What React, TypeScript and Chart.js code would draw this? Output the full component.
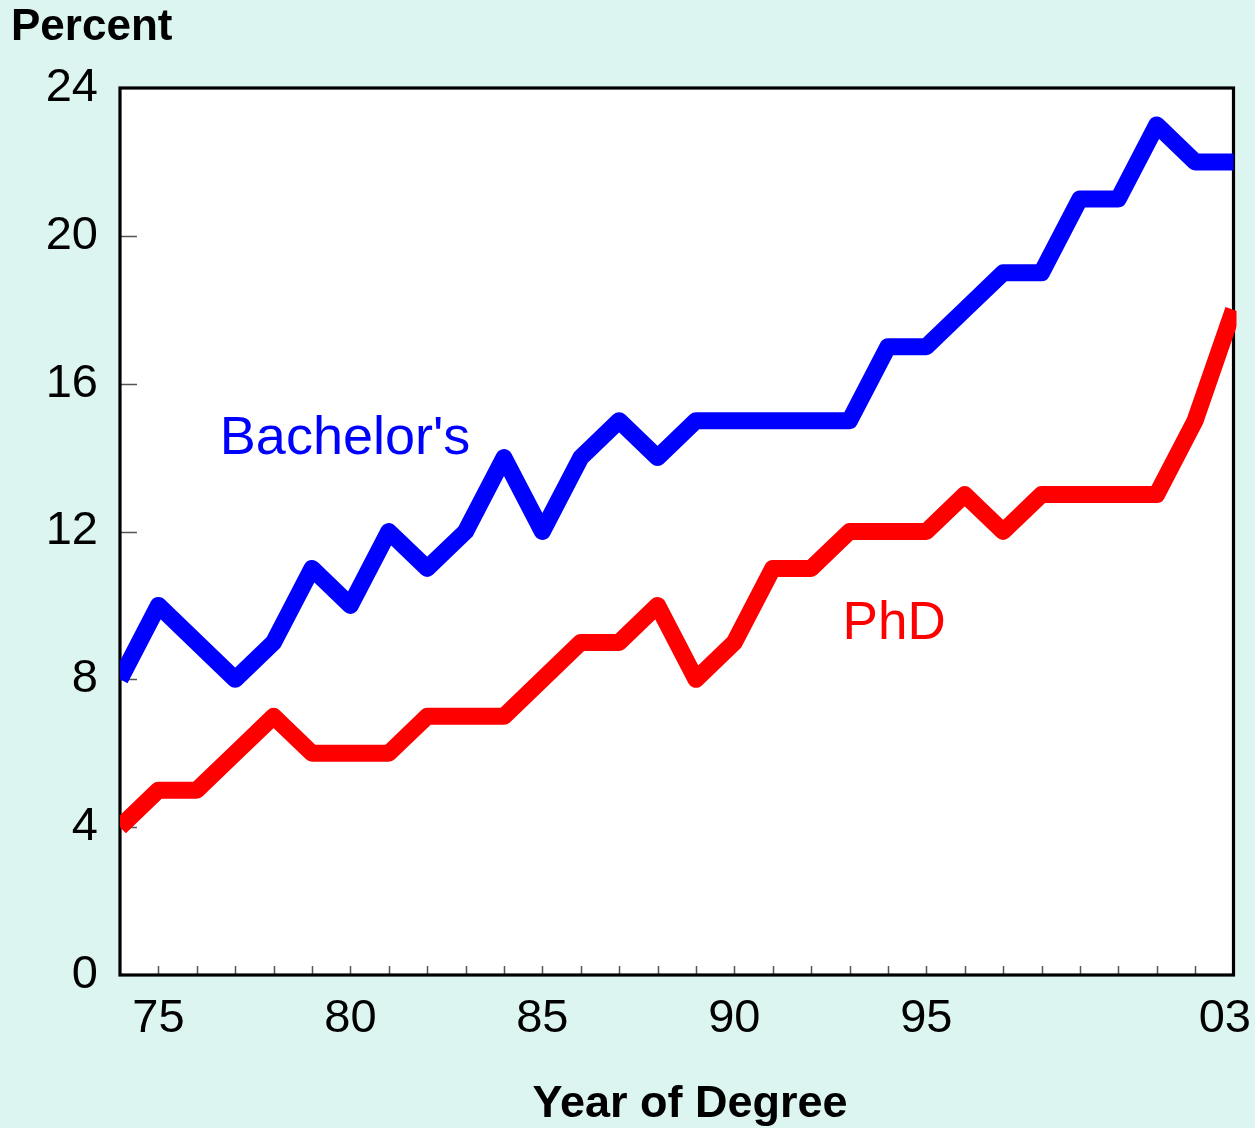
import React, { useEffect, useRef } from "react";
import { Chart, registerables } from "chart.js";

Chart.register(...registerables);

const years = [1974, 1975, 1976, 1977, 1978, 1979, 1980, 1981, 1982, 1983, 1984, 1985, 1986, 1987, 1988, 1989, 1990, 1991, 1992, 1993, 1994, 1995, 1996, 1997, 1998, 1999, 2000, 2001, 2002, 2003];
const bachelors = [8, 10, 9, 8, 9, 11, 10, 12, 11, 12, 14, 12, 14, 15, 14, 15, 15, 15, 15, 15, 17, 17, 18, 19, 19, 21, 21, 23, 22, 22];
const phd = [4, 5, 5, 6, 7, 6, 6, 6, 7, 7, 7, 8, 9, 9, 10, 8, 9, 11, 11, 12, 12, 12, 13, 12, 13, 13, 13, 13, 15, 18];
const xTickYears = [1975, 1980, 1985, 1990, 1995, 2003];
const xTickLabels = ["75", "80", "85", "90", "95", "03"];
const yTicks = [0, 4, 8, 12, 16, 20, 24];

const FONT = '"Liberation Sans", Arial, Helvetica, sans-serif';
const BG = "#dcf5f0";

const customPlugin = {
  id: "customDraw",
  beforeDraw(chart: any) {
    const { ctx, chartArea } = chart;
    ctx.save();
    ctx.fillStyle = BG;
    ctx.fillRect(0, 0, chart.width, chart.height);
    ctx.fillStyle = "#ffffff";
    ctx.fillRect(chartArea.left, chartArea.top, chartArea.right - chartArea.left, chartArea.bottom - chartArea.top);
    ctx.restore();
  },
  beforeDatasetsDraw(chart: any) {
    const { ctx, chartArea } = chart;
    const xs = chart.scales.x;
    const ys = chart.scales.y;
    ctx.save();
    ctx.strokeStyle = "#555555";
    ctx.lineWidth = 1.5;
    ctx.beginPath();
    for (const yr of years) {
      const px = Math.round(xs.getPixelForValue(yr)) + 0.5;
      if (px <= chartArea.left + 2 || px >= chartArea.right - 2) continue;
      ctx.moveTo(px, chartArea.bottom);
      ctx.lineTo(px, chartArea.bottom - 9);
    }
    for (const v of yTicks) {
      const py = Math.round(ys.getPixelForValue(v)) + 0.5;
      if (py <= chartArea.top + 2 || py >= chartArea.bottom - 2) continue;
      ctx.moveTo(chartArea.left, py);
      ctx.lineTo(chartArea.left + 17, py);
    }
    ctx.stroke();
    ctx.strokeStyle = "#000000";
    ctx.lineWidth = 3.2;
    ctx.strokeRect(chartArea.left, chartArea.top, chartArea.right - chartArea.left, chartArea.bottom - chartArea.top);
    ctx.restore();
  },
  afterDraw(chart: any) {
    const { ctx } = chart;
    const xs = chart.scales.x;
    const ys = chart.scales.y;
    ctx.save();
    ctx.fillStyle = "#000000";
    ctx.font = `47px ${FONT}`;
    ctx.textBaseline = "alphabetic";
    ctx.textAlign = "center";
    xTickYears.forEach((yr, i) => {
      let px = xs.getPixelForValue(yr);
      const w = ctx.measureText(xTickLabels[i]).width;
      if (px + w / 2 > chart.width - 4) px = chart.width - 4 - w / 2;
      ctx.fillText(xTickLabels[i], px, 1032);
    });
    ctx.font = `bold 44px ${FONT}`;
    ctx.textAlign = "left";
    ctx.fillText("Percent", 11, 40);
    ctx.font = `bold 45px ${FONT}`;
    ctx.textAlign = "center";
    ctx.fillText("Year of Degree", 690, 1117);

    ctx.font = `54px ${FONT}`;
    ctx.textAlign = "left";
    ctx.fillStyle = "#0000ff";
    ctx.fillText("Bachelor's", xs.getPixelForValue(1976.6), ys.getPixelForValue(14.1));
    ctx.fillStyle = "#ff0000";
    ctx.font = `53px ${FONT}`;
    ctx.fillText("PhD", xs.getPixelForValue(1992.82), ys.getPixelForValue(9.1));
    ctx.restore();
  },
};

export default function App() {
  const canvasRef = useRef<HTMLCanvasElement | null>(null);

  useEffect(() => {
    document.body.style.margin = "0";
    const canvas = canvasRef.current;
    if (!canvas) return;
    const chart = new Chart(canvas, {
      type: "line",
      data: {
        datasets: [
          {
            label: "Bachelor's",
            data: years.map((yr, i) => ({ x: yr, y: bachelors[i] })),
            borderColor: "#0000ff",
            borderWidth: 17,
            pointRadius: 0,
            tension: 0,
            borderJoinStyle: "round",
            borderCapStyle: "butt",
            fill: false,
            clip: { left: 0, right: 3, top: 10, bottom: 0 },
          },
          {
            label: "PhD",
            data: years.map((yr, i) => ({ x: yr, y: phd[i] })),
            borderColor: "#ff0000",
            borderWidth: 17,
            pointRadius: 0,
            tension: 0,
            borderJoinStyle: "round",
            borderCapStyle: "butt",
            fill: false,
            clip: { left: 0, right: 3, top: 10, bottom: 0 },
          },
        ],
      },
      options: {
        animation: false,
        responsive: false,
        maintainAspectRatio: false,
        devicePixelRatio: 1,
        layout: { padding: { top: 88, right: 21.5, left: 0, bottom: 0 } },
        plugins: {
          legend: { display: false },
          tooltip: { enabled: false },
          title: { display: false },
        },
        scales: {
          x: {
            type: "linear",
            min: 1974,
            max: 2003,
            grid: { display: false, drawTicks: false },
            border: { display: false },
            ticks: { display: false, stepSize: 1 },
            afterFit: (scale: any) => {
              scale.height = 153;
              scale.paddingLeft = 0;
              scale.paddingRight = 0;
            },
          },
          y: {
            type: "linear",
            min: 0,
            max: 24,
            grid: { display: false, drawTicks: false },
            border: { display: false },
            ticks: {
              stepSize: 4,
              padding: 22,
              color: "#000000",
              font: { family: FONT, size: 47 },
            },
            afterFit: (scale: any) => {
              scale.width = 120;
              scale.paddingTop = 0;
              scale.paddingBottom = 0;
            },
          },
        },
      },
      plugins: [customPlugin],
    });
    return () => chart.destroy();
  }, []);

  return (
    <div style={{ position: "absolute", left: 0, top: 0, width: 1255, height: 1128 }}>
      <canvas ref={canvasRef} width={1255} height={1128} style={{ display: "block", width: 1255, height: 1128 }} />
    </div>
  );
}
